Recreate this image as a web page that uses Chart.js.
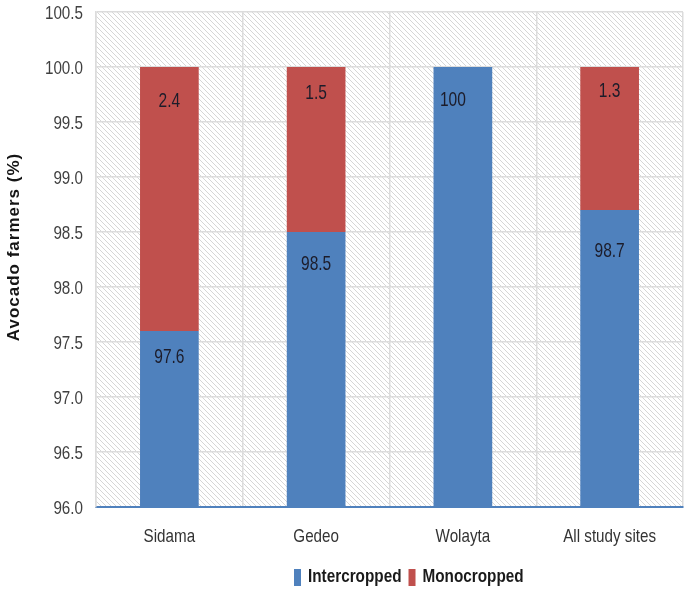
<!DOCTYPE html>
<html>
<head>
<meta charset="utf-8">
<script src="https://cdn.jsdelivr.net/npm/chart.js@4.4.0/dist/chart.umd.min.js"></script>
<style>
  html, body { margin: 0; padding: 0; background: #fff; }
  #wrap { position: relative; width: 685px; height: 592px; }
</style>
</head>
<body>
<div id="wrap"><canvas id="chart"></canvas></div>
<script>
// values
var sites = ["Sidama", "Gedeo", "Wolayta", "All study sites"];
var intercropped = [97.6, 98.5, 100, 98.7];
var monocropped = [2.4, 1.5, 0, 1.3];
var yTicks = [96.0, 96.5, 97.0, 97.5, 98.0, 98.5, 99.0, 99.5, 100.0, 100.5];
var yTitle = "Avocado farmers (%)";

var sans = "'Liberation Sans', Arial, sans-serif";

// the source uses a narrow face, so squeeze Liberation Sans sideways
function narrowText(ctx, txt, x, y, size, sx, align, bold) {
  ctx.save();
  ctx.translate(x, y);
  ctx.scale(sx, 1);
  ctx.font = (bold ? "bold " : "") + size + "px " + sans;
  ctx.textAlign = align;
  ctx.textBaseline = "alphabetic";
  ctx.fillText(txt, 0, 0);
  ctx.restore();
}

// diagonal hatch behind the plot
function hatch() {
  var s = 5;
  var c = document.createElement("canvas");
  c.width = s; c.height = s;
  var g = c.getContext("2d");
  g.fillStyle = "#ffffff";
  g.fillRect(0, 0, s, s);
  g.strokeStyle = "#d6d6d6";
  g.lineWidth = 1;
  g.beginPath();
  g.moveTo(-1, -1); g.lineTo(s + 1, s + 1);
  g.moveTo(-1, s - 1); g.lineTo(1, s + 1);
  g.moveTo(s - 1, -1); g.lineTo(s + 1, 1);
  g.stroke();
  return g.createPattern(c, "repeat");
}

var bgPlugin = {
  id: "hatchBg",
  beforeDraw: function (chart) {
    var a = chart.chartArea, ctx = chart.ctx;
    ctx.save();
    ctx.fillStyle = hatch();
    ctx.fillRect(a.left, a.top, a.right - a.left, a.bottom - a.top);
    ctx.restore();
  }
};

// axis text, bar labels and legend drawn in the narrow style
var textPlugin = {
  id: "narrowText",
  afterDraw: function (chart, args, opts) {
    var ctx = chart.ctx, xs = chart.scales.x, ys = chart.scales.y;

    ctx.fillStyle = "#404040";
    ys.ticks.forEach(function (t) {
      narrowText(ctx, t.value.toFixed(1), 83, ys.getPixelForValue(t.value) + 7, 19, 0.8, "right");
    });

    ctx.fillStyle = "#333333";
    chart.data.labels.forEach(function (lab, i) {
      narrowText(ctx, lab, xs.getPixelForTick(i), 542, 19, 0.8, "center");
    });

    ctx.save();
    ctx.fillStyle = "#151515";
    ctx.translate(14, 247);
    ctx.rotate(-Math.PI / 2);
    ctx.font = "bold 17px " + sans;
    ctx.letterSpacing = "1px";
    ctx.textAlign = "center";
    ctx.textBaseline = "middle";
    ctx.fillText(yTitle, 0, 0);
    ctx.restore();

    ctx.fillStyle = "#1c1c2a";
    chart.data.datasets.forEach(function (ds, i) {
      chart.getDatasetMeta(i).data.forEach(function (bar, j) {
        var v = ds.data[j];
        if (!v) return;
        var off = opts.offsets[i][j];
        narrowText(ctx, String(v), bar.x + off[0], bar.y + off[1] + 7, 21, 0.74, "center");
      });
    });

    var lx = 294;
    chart.data.datasets.forEach(function (ds) {
      ctx.fillStyle = ds.backgroundColor;
      ctx.fillRect(lx, 569, 7, 17);
      ctx.fillStyle = "#1a1a1a";
      ctx.save();
      ctx.font = "bold 18px " + sans;
      var w = ctx.measureText(ds.label).width * 0.85;
      ctx.restore();
      narrowText(ctx, ds.label, lx + 14, 582, 18, 0.85, "left", true);
      lx += 14 + w + 7;
    });
  }
};

var cfg = {
  type: "bar",
  data: {
    labels: sites,
    datasets: [
      {
        label: "Intercropped",
        data: intercropped,
        backgroundColor: "#4f81bd",
        barPercentage: 0.4,
        categoryPercentage: 1.0
      },
      {
        label: "Monocropped",
        data: monocropped,
        backgroundColor: "#c0504d",
        barPercentage: 0.4,
        categoryPercentage: 1.0
      }
    ]
  },
  options: {
    responsive: true,
    maintainAspectRatio: false,
    animation: false,
    layout: { padding: { top: 12, right: 2, left: 0, bottom: 0 } },
    plugins: {
      tooltip: { enabled: false },
      legend: { display: false },
      narrowText: {
        // label nudges [dx, dy from bar top] as placed in the source
        offsets: [
          [[0, 25], [0, 31], [-10, 32], [0, 40]],
          [[0, 33], [0, 25], [0, 30], [0, 23]]
        ]
      }
    },
    scales: {
      x: {
        stacked: true,
        grid: { color: "#dcdcdc", lineWidth: 1.5, drawTicks: false },
        border: { color: "#4f81bd", width: 2 },
        ticks: { display: false },
        afterFit: function (s) { s.height = 85; }
      },
      y: {
        stacked: true,
        min: 96,
        max: 100.5,
        afterBuildTicks: function (s) {
          s.ticks = yTicks.map(function (v) { return { value: v }; });
        },
        grid: { color: "#dcdcdc", lineWidth: 1.5, drawTicks: false },
        border: { color: "#dcdcdc", width: 1.5 },
        ticks: { display: false },
        afterFit: function (s) { s.width = 96; }
      }
    }
  },
  plugins: [bgPlugin, textPlugin]
};

new Chart(document.getElementById("chart").getContext("2d"), cfg);
</script>
</body>
</html>
